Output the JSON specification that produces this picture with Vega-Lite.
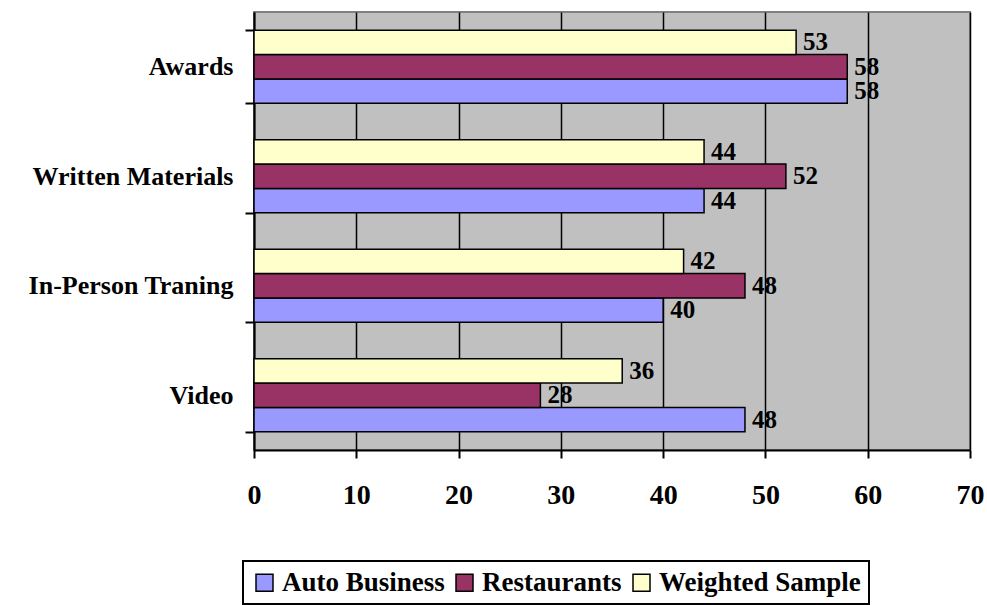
{
  "$schema": "https://vega.github.io/schema/vega-lite/v6.json",
  "width": 716,
  "height": 438,
  "autosize": {"type": "none"},
  "padding": {"left": 254, "top": 12, "right": 17, "bottom": 155},
  "background": "white",
  "config": {
    "font": "'Liberation Serif', 'Times New Roman', serif",
    "view": {"fill": "#C0C0C0", "stroke": "#808080", "strokeWidth": 2},
    "legend": {"strokeWidth": 2}
  },
  "data": {
    "values": [
      {"category": "Awards", "series": "Auto Business", "value": 58},
      {"category": "Awards", "series": "Restaurants", "value": 58},
      {"category": "Awards", "series": "Weighted Sample", "value": 53},
      {"category": "Written Materials", "series": "Auto Business", "value": 44},
      {"category": "Written Materials", "series": "Restaurants", "value": 52},
      {"category": "Written Materials", "series": "Weighted Sample", "value": 44},
      {"category": "In-Person Traning", "series": "Auto Business", "value": 40},
      {"category": "In-Person Traning", "series": "Restaurants", "value": 48},
      {"category": "In-Person Traning", "series": "Weighted Sample", "value": 42},
      {"category": "Video", "series": "Auto Business", "value": 48},
      {"category": "Video", "series": "Restaurants", "value": 28},
      {"category": "Video", "series": "Weighted Sample", "value": 36}
    ]
  },
  "encoding": {
    "y": {
      "field": "category",
      "type": "nominal",
      "sort": ["Awards", "Written Materials", "In-Person Traning", "Video"],
      "scale": {"paddingInner": 0.333, "paddingOuter": 0.1667},
      "axis": {
        "title": null,
        "tickBand": "extent",
        "tickColor": "black",
        "tickWidth": 2,
        "tickSize": 9,
        "domainColor": "black",
        "domainWidth": 2,
        "labelFont": "'Liberation Serif', 'Times New Roman', serif",
        "labelFontSize": 26,
        "labelFontWeight": "bold",
        "labelColor": "black",
        "labelPadding": 12,
        "labelLimit": 0,
        "grid": false
      }
    },
    "yOffset": {
      "field": "series",
      "type": "nominal",
      "sort": ["Weighted Sample", "Restaurants", "Auto Business"],
      "scale": {"paddingInner": 0, "paddingOuter": 0}
    },
    "x": {
      "field": "value",
      "type": "quantitative",
      "scale": {"domain": [0, 70], "nice": false},
      "axis": {
        "title": null,
        "values": [0, 10, 20, 30, 40, 50, 60, 70],
        "grid": true,
        "gridColor": "black",
        "gridWidth": 1.5,
        "gridOpacity": 1,
        "tickColor": "black",
        "tickWidth": 2,
        "tickSize": 8,
        "domainColor": "black",
        "domainWidth": 2,
        "labelFont": "'Liberation Serif', 'Times New Roman', serif",
        "labelFontSize": 28,
        "labelFontWeight": "bold",
        "labelColor": "black",
        "labelPadding": 23,
        "labelFlush": false
      }
    }
  },
  "layer": [
    {
      "mark": {"type": "bar", "stroke": "black", "strokeWidth": 1.5},
      "encoding": {
        "color": {
          "field": "series",
          "type": "nominal",
          "scale": {
            "domain": ["Auto Business", "Restaurants", "Weighted Sample"],
            "range": ["#9999FF", "#993366", "#FFFFCC"]
          },
          "legend": {
            "title": null,
            "orient": "none",
            "legendX": -11,
            "legendY": 549,
            "direction": "horizontal",
            "strokeColor": "black",
            "padding": 8,
            "symbolType": "square",
            "symbolSize": 289,
            "symbolStrokeColor": "black",
            "symbolStrokeWidth": 1.5,
            "symbolOpacity": 1,
            "labelFont": "'Liberation Serif', 'Times New Roman', serif",
            "labelFontSize": 27,
            "labelFontWeight": "bold",
            "labelColor": "black",
            "labelOffset": 4,
            "labelLimit": 0,
            "columnPadding": 6,
            "fillColor": "white"
          }
        }
      }
    },
    {
      "mark": {
        "type": "text",
        "align": "left",
        "baseline": "middle",
        "dx": 7,
        "font": "'Liberation Serif', 'Times New Roman', serif",
        "fontSize": 25,
        "fontWeight": "bold",
        "color": "black"
      },
      "encoding": {"text": {"field": "value", "type": "quantitative"}}
    }
  ]
}
